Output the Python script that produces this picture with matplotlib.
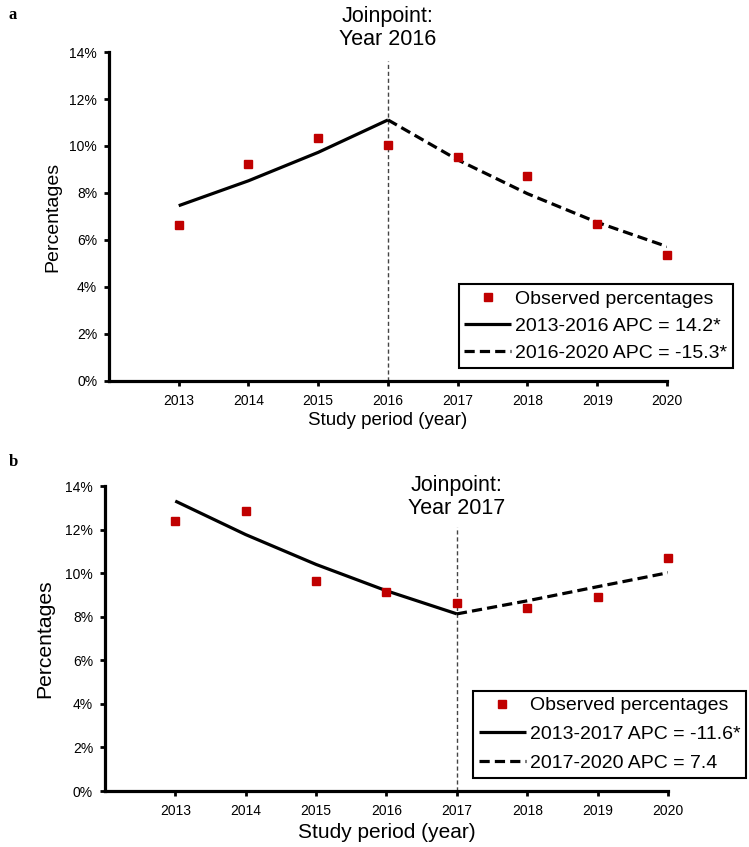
import matplotlib
matplotlib.use("Agg")
import matplotlib.pyplot as plt
from matplotlib.ticker import FuncFormatter

plt.rcParams['font.family'] = ['Liberation Sans', 'DejaVu Sans']

years = [2013, 2014, 2015, 2016, 2017, 2018, 2019, 2020]

# Panel a
obs_a = [6.62, 9.25, 10.33, 10.06, 9.53, 8.71, 6.68, 5.37]
fit_a_seg1_years = [2013, 2014, 2015, 2016]
fit_a_seg1 = [7.46, 8.52, 9.73, 11.11]
fit_a_seg2_years = [2016, 2017, 2018, 2019, 2020]
fit_a_seg2 = [11.11, 9.41, 7.97, 6.75, 5.72]
joinpoint_a = 2016
labels_a = ["Observed percentages", "2013-2016 APC = 14.2*", "2016-2020 APC = -15.3*"]

# Panel b
obs_b = [12.41, 12.84, 9.66, 9.13, 8.62, 8.40, 8.90, 10.69]
fit_b_seg1_years = [2013, 2014, 2015, 2016, 2017]
fit_b_seg1 = [13.31, 11.77, 10.40, 9.19, 8.13]
fit_b_seg2_years = [2017, 2018, 2019, 2020]
fit_b_seg2 = [8.13, 8.73, 9.38, 10.02]
joinpoint_b = 2017
labels_b = ["Observed percentages", "2013-2017 APC = -11.6*", "2017-2020 APC = 7.4"]

yticks = [0, 2, 4, 6, 8, 10, 12, 14]

RED = "#C00000"

fig = plt.figure(figsize=(7.49, 8.47), dpi=100)

def draw(ax, obs, s1x, s1, s2x, s2, jp, jp_top, jp_text_y, labels, leg_anchor,
         xlabel_size, xlabel_y, ylabel_size, ylabel_x, labelspacing):
    ax.set_xlim(2012, 2020)
    ax.set_ylim(0, 14)
    ax.vlines(jp, 0, jp_top, colors="#444444", linestyles=(0, (3, 2)), linewidth=1.0, zorder=1)
    l1, = ax.plot(s1x, s1, color="black", lw=2.3, solid_capstyle="butt", zorder=2)
    l2, = ax.plot(s2x, s2, color="black", lw=2.3, linestyle=(0, (3.2, 1.6)), zorder=2)
    sc, = ax.plot(years, obs, linestyle="none", marker="s", markersize=6.2,
                  color=RED, markeredgecolor=RED, clip_on=False, zorder=3)
    for sp in ["top", "right"]:
        ax.spines[sp].set_visible(False)
    for sp in ["left", "bottom"]:
        ax.spines[sp].set_linewidth(2.3)
    ax.set_xticks(years)
    ax.set_yticks(yticks)
    ax.yaxis.set_major_formatter(FuncFormatter(lambda v, p: f"{int(v)}%"))
    ax.tick_params(axis="both", length=3.5, width=2.0, labelsize=10, colors="black")
    ax.tick_params(axis="x", pad=6)
    ax.tick_params(axis="y", pad=5)
    ax.set_ylabel("Percentages", fontsize=ylabel_size)
    ax.yaxis.set_label_coords(ylabel_x, 0.5)
    ax.set_xlabel("Study period (year)", fontsize=xlabel_size)
    ax.xaxis.set_label_coords(0.5, xlabel_y)
    ax.text(jp, jp_text_y, f"Joinpoint:\nYear {jp}", ha="center", va="center",
            fontsize=15.5, linespacing=1.1, clip_on=False)
    leg = ax.legend([sc, l1, l2], labels, loc="lower right", bbox_to_anchor=leg_anchor,
                    bbox_transform=fig.transFigure, borderaxespad=0, fontsize=14,
                    frameon=True, fancybox=False, framealpha=1, edgecolor="black",
                    handlelength=2.4, handletextpad=0.2, labelspacing=labelspacing,
                    borderpad=0.3, markerscale=1.0)
    leg.get_frame().set_linewidth(1.5)

ax_a = fig.add_axes([0.1455, 0.5502, 0.7450, 0.3884])
draw(ax_a, obs_a, fit_a_seg1_years, fit_a_seg1, fit_a_seg2_years, fit_a_seg2,
     joinpoint_a, 13.6, 15.02, labels_a, (0.9786, 0.5655), 13.5, -0.094,
     14, -0.085, 0.5)

ax_b = fig.add_axes([0.140, 0.0661, 0.752, 0.3601])
draw(ax_b, obs_b, fit_b_seg1_years, fit_b_seg1, fit_b_seg2_years, fit_b_seg2,
     joinpoint_b, 12.1, 13.5, labels_b, (0.996, 0.0815), 15, -0.105,
     15.2, -0.089, 0.58)

fig.text(0.012, 0.982, "a", fontsize=12, fontweight="bold", family="Liberation Serif", va="center")
fig.text(0.012, 0.455, "b", fontsize=12, fontweight="bold", family="Liberation Serif", va="center")

fig.savefig("out.png", dpi=100)
